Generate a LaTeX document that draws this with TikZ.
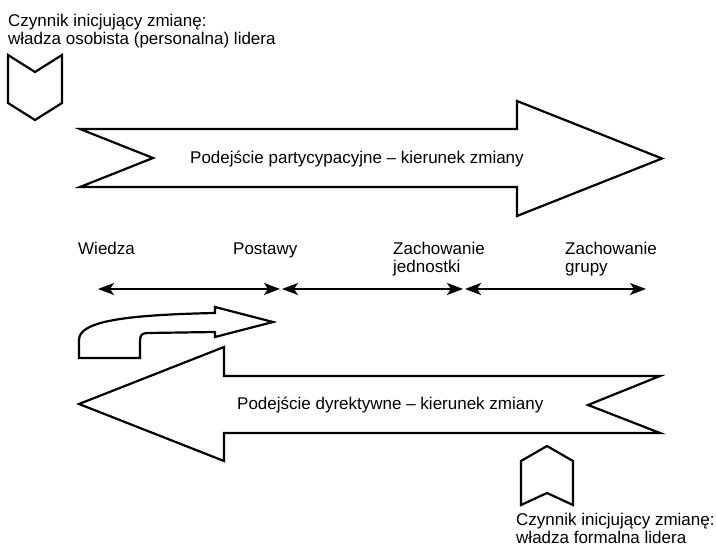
\documentclass[tikz,border=0pt]{standalone}
\usepackage{fontspec}
\setmainfont{Liberation Sans}
\usetikzlibrary{arrows.meta}
\tikzset{
  shapeline/.style={draw=black,line width=2.2pt,line join=miter,fill=white},
  span/.style={{Stealth[length=16pt,width=12pt,inset=4pt]}-{Stealth[length=16pt,width=12pt,inset=4pt]},
    line width=2pt,shorten >=1pt,shorten <=1pt},
  stagetext/.style={anchor=base west,align=left,inner sep=0pt,font=\fontsize{17}{18}\selectfont}
}

\begin{document}
\begin{tikzpicture}[x=1pt,y=-1pt]
  \useasboundingbox (0,0) rectangle (716,553);
  \draw[shapeline] (8,55) -- (35,72) -- (62,55) -- (62,103) -- (35,120) -- (8,103) -- cycle;
  \draw[shapeline] (80,129) -- (517,129) -- (517,101) -- (662,158.5) -- (517,216) -- (517,187)
    -- (80,187) -- (153,158) -- cycle;
  \draw[shapeline] (79,404) -- (224,347) -- (224,376) -- (660,376) -- (588,405) -- (660,433)
    -- (224,433) -- (224,461) -- cycle;
  \draw[shapeline] (79,358) -- (79,340) .. controls (79,322) and (120,315) .. (215,313)
    -- (215,307) -- (273,322) -- (215,337) -- (215,332) -- (148,333)
    .. controls (142,333) and (140,335) .. (140,341) -- (140,358) -- cycle;
  \draw[shapeline] (521,461) -- (547,446) -- (573,461) -- (573,505) -- (547,493) -- (521,505) -- cycle;
  \node[stagetext] (personal) at (8,45) {Czynnik inicjujący zmianę:\\władza osobista (personalna) lidera};
  \node[stagetext] (formal) at (516,544) {Czynnik inicjujący zmianę:\\władza formalna lidera};
  \node[stagetext] (partic) at (190,164) {Podejście partycypacyjne – kierunek zmiany};
  \node[stagetext] (direct) at (237,410) {Podejście dyrektywne – kierunek zmiany};
  \node[stagetext] (wiedza) at (78,255) {Wiedza};
  \node[stagetext] (postawy) at (233,255) {Postawy};
  \node[stagetext] (jednostka) at (393,273) {Zachowanie\\jednostki};
  \node[stagetext] (grupa) at (565,273) {Zachowanie\\grupy};
  \coordinate (w) at (97,289);
  \coordinate (p) at (281,289);
  \coordinate (j) at (464,289);
  \coordinate (g) at (647,289);
  \draw[span] (w) -- (p);
  \draw[span] (p) -- (j);
  \draw[span] (j) -- (g);
\end{tikzpicture}
\end{document}
